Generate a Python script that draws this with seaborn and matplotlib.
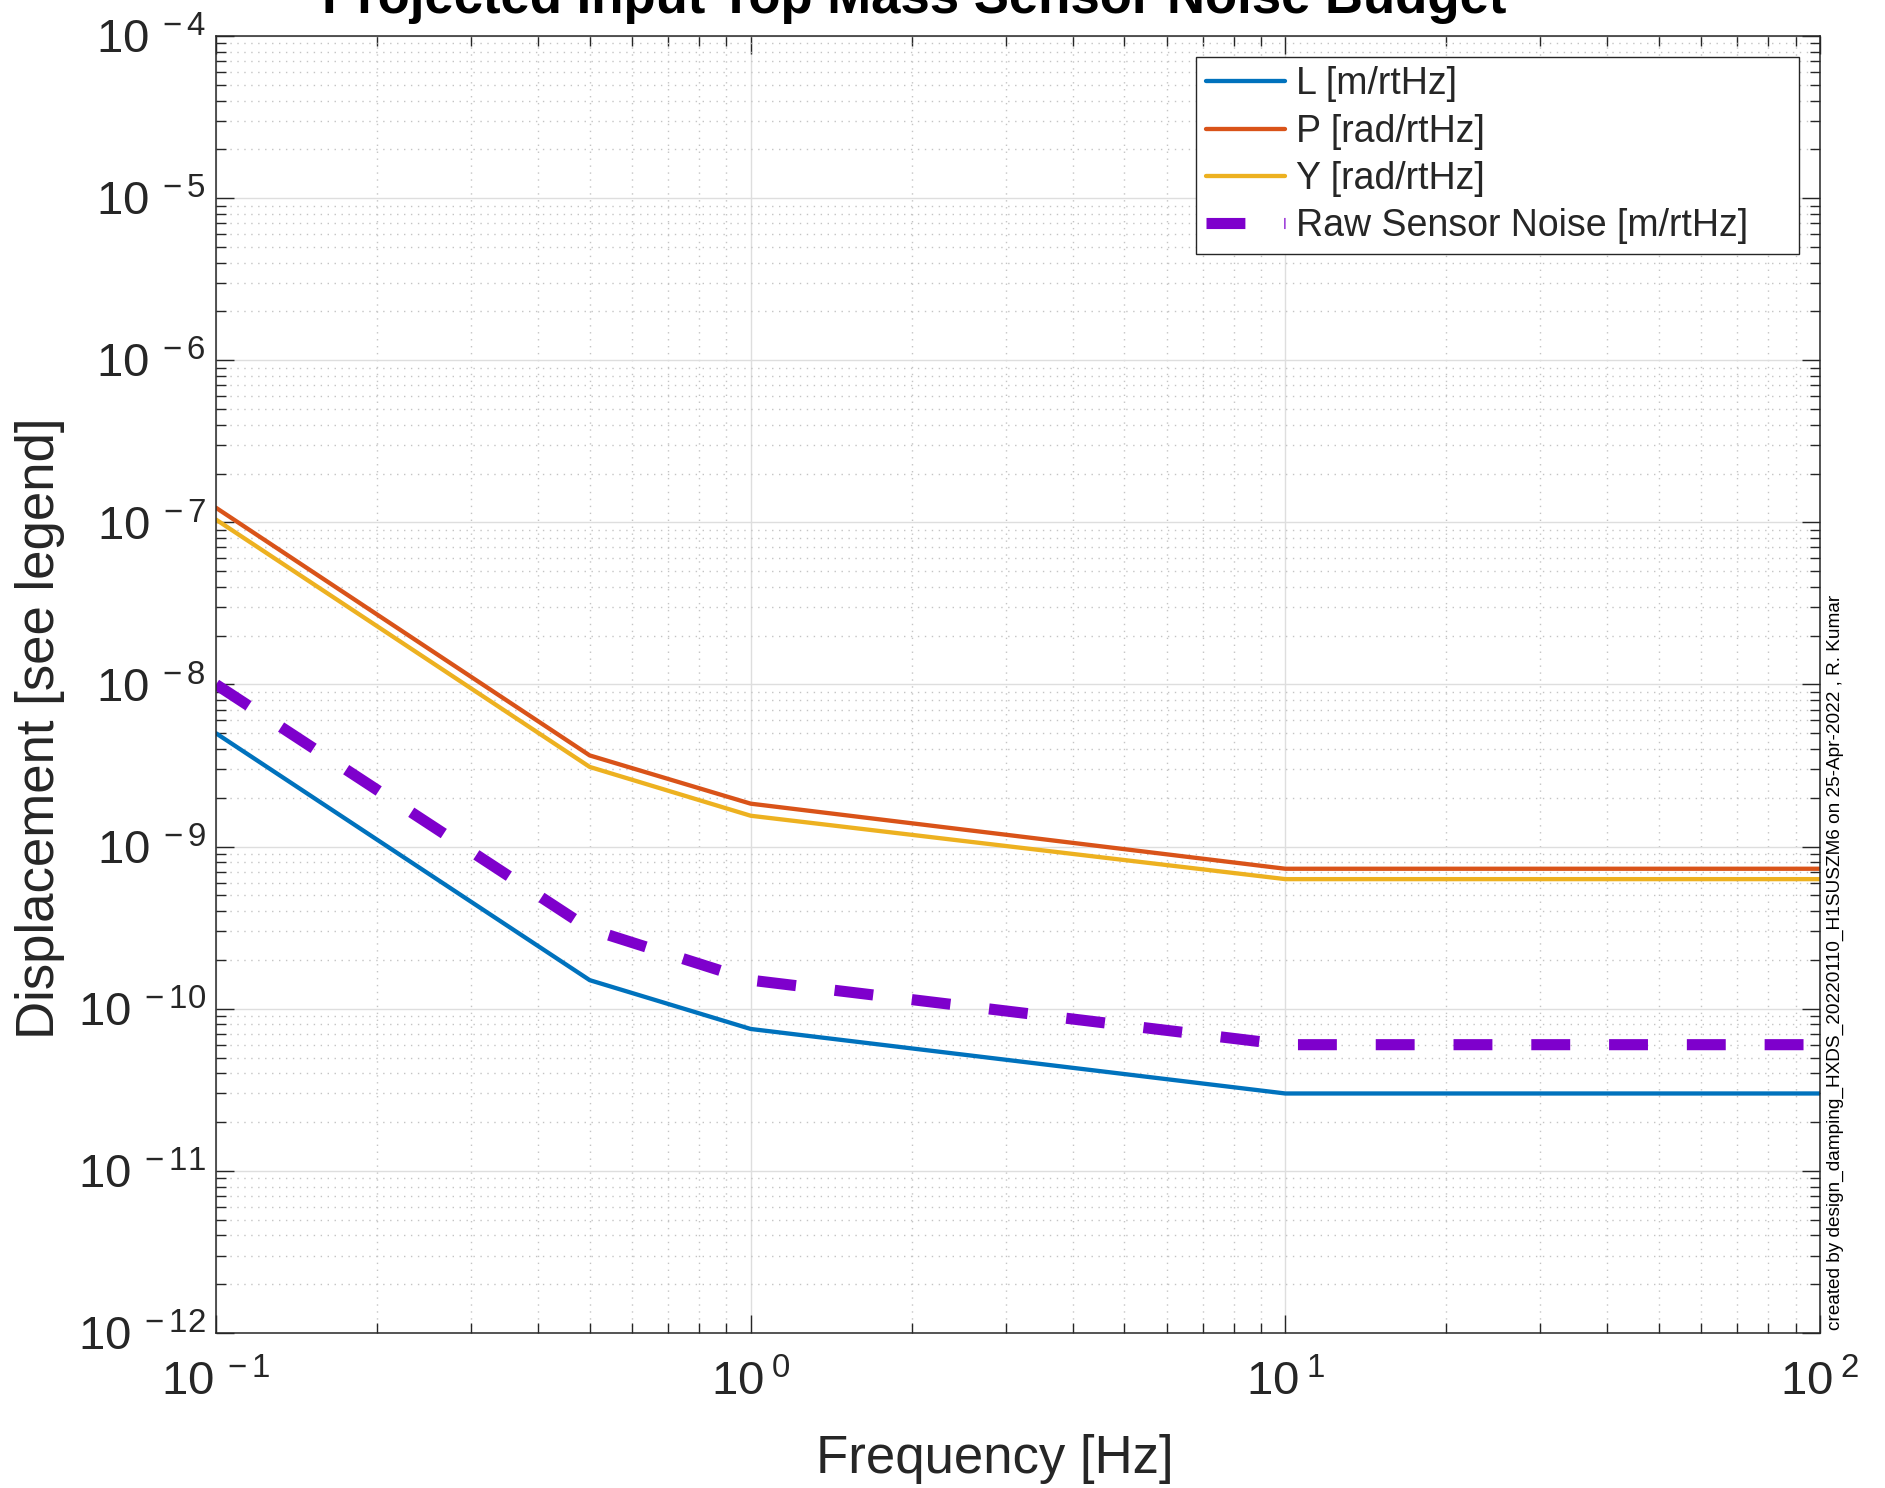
import numpy as np
import pandas as pd
import matplotlib
matplotlib.use("Agg")
import matplotlib.pyplot as plt
import seaborn as sns
from matplotlib.ticker import LogLocator, FuncFormatter, NullFormatter

# data (log-log, piecewise)
freq = [0.1, 0.5, 1.0, 10.0, 100.0]
L_asd = [5.0e-9, 1.5e-10, 7.5e-11, 3.0e-11, 3.0e-11]
P_asd = [1.23e-7, 3.65e-9, 1.84e-9, 7.3e-10, 7.3e-10]
Y_asd = [1.04e-7, 3.1e-9, 1.55e-9, 6.3e-10, 6.3e-10]
raw_asd = [1.0e-8, 3.1e-10, 1.5e-10, 6.0e-11, 6.0e-11]

# trailing spaces on the last entry give the wide MATLAB-style legend box
labels = ["L [m/rtHz]", "P [rad/rtHz]", "Y [rad/rtHz]", "Raw Sensor Noise [m/rtHz]    "]
colors = ["#0072BD", "#D95319", "#EDB120", "#7E00CC"]

sns.set_theme(style="ticks")
plt.rcParams["font.family"] = ["Liberation Sans", "DejaVu Sans"]
plt.rcParams["mathtext.fontset"] = "custom"
plt.rcParams["mathtext.rm"] = "Liberation Sans"
plt.rcParams["mathtext.it"] = "Liberation Sans:italic"
plt.rcParams["mathtext.bf"] = "Liberation Sans:bold"

fig = plt.figure(figsize=(18.85, 14.88), dpi=100)
ax = fig.add_axes([0.1146, 0.1042, 0.8509, 0.8716])

df = pd.DataFrame({"freq": freq, "L": L_asd, "P": P_asd, "Y": Y_asd, "raw": raw_asd})

sns.lineplot(data=df, x="freq", y="L", ax=ax, color=colors[0], lw=3.1, label=labels[0])
sns.lineplot(data=df, x="freq", y="P", ax=ax, color=colors[1], lw=3.1, label=labels[1])
sns.lineplot(data=df, x="freq", y="Y", ax=ax, color=colors[2], lw=3.1, label=labels[2])
sns.lineplot(data=df, x="freq", y="raw", ax=ax, color=colors[3], lw=8,
             linestyle=(0, (3.5, 3.5)), label=labels[3])

ax.set_xscale("log")
ax.set_yscale("log")
ax.set_xlim(0.1, 100)
ax.set_ylim(1e-12, 1e-4)


def pow10(v, pos):
    return r"$\mathregular{10^{\;%d}}$" % int(round(np.log10(v)))


ax.xaxis.set_major_locator(LogLocator(base=10, numticks=20))
ax.yaxis.set_major_locator(LogLocator(base=10, numticks=20))
ax.xaxis.set_minor_locator(LogLocator(base=10, subs=np.arange(2, 10), numticks=20))
ax.yaxis.set_minor_locator(LogLocator(base=10, subs=np.arange(2, 10), numticks=20))
ax.xaxis.set_major_formatter(FuncFormatter(pow10))
ax.yaxis.set_major_formatter(FuncFormatter(pow10))
ax.xaxis.set_minor_formatter(NullFormatter())
ax.yaxis.set_minor_formatter(NullFormatter())

ax.grid(True, which="major", color="#dedede", lw=1.0, ls="-")
ax.grid(True, which="minor", color="#c4c4c4", lw=1.0, ls=(0, (1, 4)))
ax.set_axisbelow(True)

ax.tick_params(which="both", direction="in", top=True, right=True, colors="#262626")
ax.tick_params(which="major", length=13, width=1.0, labelsize=34)
ax.tick_params(which="minor", length=7, width=1.0)
ax.tick_params(axis="y", which="major", pad=7)
ax.tick_params(axis="x", which="major", pad=20)
for s in ax.spines.values():
    s.set_color("#262626")
    s.set_linewidth(1.1)

ax.set_xlabel("Frequency [Hz]", fontsize=38, color="#262626")
ax.set_ylabel("Displacement [see legend]", fontsize=38, color="#262626")
ax.xaxis.set_label_coords(0.4857, -0.078)
ax.yaxis.set_label_coords(-0.094, 0.466)

leg = ax.legend(loc="upper right", fontsize=27, frameon=True, fancybox=False,
                framealpha=1, edgecolor="#262626", borderaxespad=0.55,
                handlelength=2.1, handletextpad=0.3, labelspacing=0.3,
                borderpad=0.26)
leg.get_frame().set_linewidth(1.0)

fig.text(0.485, 1 - 13 / 1488, "Projected Input Top Mass Sensor Noise Budget",
         ha="center", va="baseline", fontsize=38, fontweight="bold", color="black")
fig.text(0.9735, 1 - 1330 / 1488,
         "created by design_damping_HXDS_20220110_H1SUSZM6 on 25-Apr-2022 , R. Kumar",
         rotation=90, ha="center", va="bottom", fontsize=13.7, color="black")

fig.savefig("out.png", dpi=100)
